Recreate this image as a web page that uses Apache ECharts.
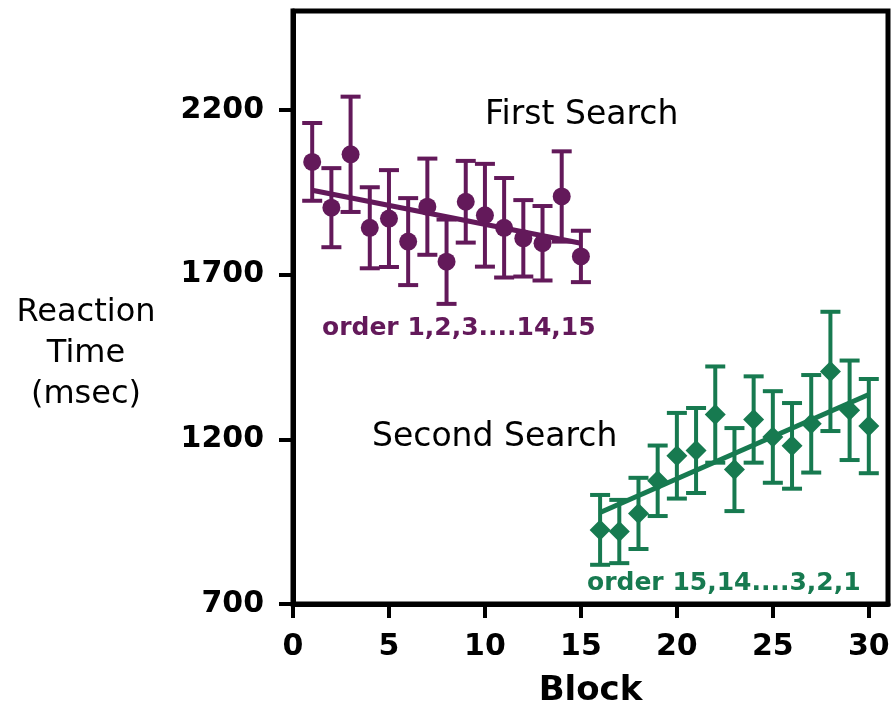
<!DOCTYPE html>
<html>
<head>
<meta charset="utf-8">
<script src="https://cdn.jsdelivr.net/npm/echarts@6/dist/echarts.min.js"></script>
<style>
  html, body { margin: 0; padding: 0; background: #fff; }
  #chart { width: 893px; height: 717px; }
</style>
</head>
<body>
<div id="chart"></div>
<script>
// Blocks 1-15: first search (order 1..15); blocks 16-30: second search (order 15..1)
const firstBlocks = [1, 2, 3, 4, 5, 6, 7, 8, 9, 10, 11, 12, 13, 14, 15];
const firstMeans  = [2042, 1903, 2065, 1842, 1870, 1800, 1906, 1739, 1921, 1880, 1842, 1810, 1795, 1937, 1755];
const firstErrors = [118, 120, 175, 123, 147, 132, 146, 128, 124, 156, 151, 116, 113, 137, 78];

const secondBlocks = [16, 17, 18, 19, 20, 21, 22, 23, 24, 25, 26, 27, 28, 29, 30];
const secondMeans  = [925, 920, 975, 1074, 1150, 1166, 1275, 1108, 1260, 1207, 1180, 1247, 1406, 1288, 1240];
const secondErrors = [106, 96, 108, 107, 130, 129, 146, 126, 131, 139, 130, 148, 181, 151, 143];

// Linear fits, given as end points [block, msec]
const firstFit  = [[1, 1956], [15, 1795]];
const secondFit = [[16, 978], [30, 1336]];

const xTicks = [0, 5, 10, 15, 20, 25, 30];
const yTicks = [700, 1200, 1700, 2200];

const PURPLE = '#63195a';
const GREEN = '#177a50';
const FONT = '"DejaVu Sans", "Liberation Sans", sans-serif';

function errorRows(xs, means, errs) {
  return xs.map((x, i) => [x, means[i] - errs[i], means[i] + errs[i]]);
}
function pointRows(xs, means) {
  return xs.map((x, i) => [x, means[i]]);
}
function errorBarRenderer(color) {
  return function (params, api) {
    const x = api.value(0);
    const lo = api.coord([x, api.value(1)]);
    const hi = api.coord([x, api.value(2)]);
    const hw = 10;
    const style = { stroke: color, lineWidth: 4, lineCap: 'butt' };
    return {
      type: 'group',
      children: [
        { type: 'line', shape: { x1: hi[0], y1: hi[1], x2: lo[0], y2: lo[1] }, style },
        { type: 'line', shape: { x1: hi[0] - hw, y1: hi[1], x2: hi[0] + hw, y2: hi[1] }, style },
        { type: 'line', shape: { x1: lo[0] - hw, y1: lo[1], x2: lo[0] + hw, y2: lo[1] }, style }
      ]
    };
  };
}
const plainNumber = v => String(v);

const chart = echarts.init(document.getElementById('chart'), null, { renderer: 'canvas' });

chart.setOption({
  animation: false,
  backgroundColor: '#fff',
  grid: {
    left: 293, right: 5, top: 11, bottom: 113,
    show: true, borderColor: '#000', borderWidth: 5, backgroundColor: 'transparent'
  },
  xAxis: {
    type: 'value', min: 0, max: 31, interval: 5,
    name: 'Block', nameLocation: 'middle', nameGap: 70,
    nameTextStyle: { fontFamily: FONT, fontWeight: 'bold', fontSize: 34, color: '#000' },
    axisLine: { show: true, onZero: false, lineStyle: { color: '#000', width: 5 } },
    axisTick: { show: true, inside: false, length: 14, customValues: xTicks, lineStyle: { color: '#000', width: 4 } },
    axisLabel: { margin: 28, customValues: xTicks, formatter: plainNumber, fontFamily: FONT, fontWeight: 'bold', fontSize: 30, color: '#000' },
    splitLine: { show: false }
  },
  yAxis: {
    type: 'value', min: 700, max: 2500, interval: 500,
    axisLine: { show: true, onZero: false, lineStyle: { color: '#000', width: 5 } },
    axisTick: { show: true, inside: false, length: 14, customValues: yTicks, lineStyle: { color: '#000', width: 4 } },
    axisLabel: { margin: 29, customValues: yTicks, formatter: plainNumber, fontFamily: FONT, fontWeight: 'bold', fontSize: 30, color: '#000' },
    splitLine: { show: false }
  },
  graphic: [
    { type: 'text', x: 86, y: 354, style: { text: 'Reaction\nTime\n(msec)', fontFamily: FONT, fontSize: 32, lineHeight: 41, fill: '#000', textAlign: 'center', textVerticalAlign: 'middle' } },
    { type: 'text', x: 485, y: 115, style: { text: 'First Search', fontFamily: FONT, fontSize: 33, fill: '#000', textAlign: 'left', textVerticalAlign: 'middle' } },
    { type: 'text', x: 372, y: 437, style: { text: 'Second Search', fontFamily: FONT, fontSize: 33, fill: '#000', textAlign: 'left', textVerticalAlign: 'middle' } },
    { type: 'text', x: 322, y: 328, style: { text: 'order 1,2,3....14,15', fontFamily: FONT, fontWeight: 'bold', fontSize: 25, fill: PURPLE, textAlign: 'left', textVerticalAlign: 'middle' } },
    { type: 'text', x: 587, y: 583, style: { text: 'order 15,14....3,2,1', fontFamily: FONT, fontWeight: 'bold', fontSize: 25, fill: GREEN, textAlign: 'left', textVerticalAlign: 'middle' } }
  ],
  series: [
    { type: 'custom', name: 'firstErr', renderItem: errorBarRenderer(PURPLE), data: errorRows(firstBlocks, firstMeans, firstErrors), z: 2 },
    { type: 'custom', name: 'secondErr', renderItem: errorBarRenderer(GREEN), data: errorRows(secondBlocks, secondMeans, secondErrors), z: 2 },
    { type: 'line', name: 'firstFit', data: firstFit, showSymbol: false, symbol: 'none', lineStyle: { color: PURPLE, width: 5 }, z: 3 },
    { type: 'line', name: 'secondFit', data: secondFit, showSymbol: false, symbol: 'none', lineStyle: { color: GREEN, width: 5 }, z: 3 },
    { type: 'scatter', name: 'First Search', data: pointRows(firstBlocks, firstMeans), symbol: 'circle', symbolSize: 18, itemStyle: { color: PURPLE, opacity: 1 }, z: 4 },
    { type: 'scatter', name: 'Second Search', data: pointRows(secondBlocks, secondMeans), symbol: 'diamond', symbolSize: 21, itemStyle: { color: GREEN, opacity: 1 }, z: 4 }
  ]
});
</script>
</body>
</html>
